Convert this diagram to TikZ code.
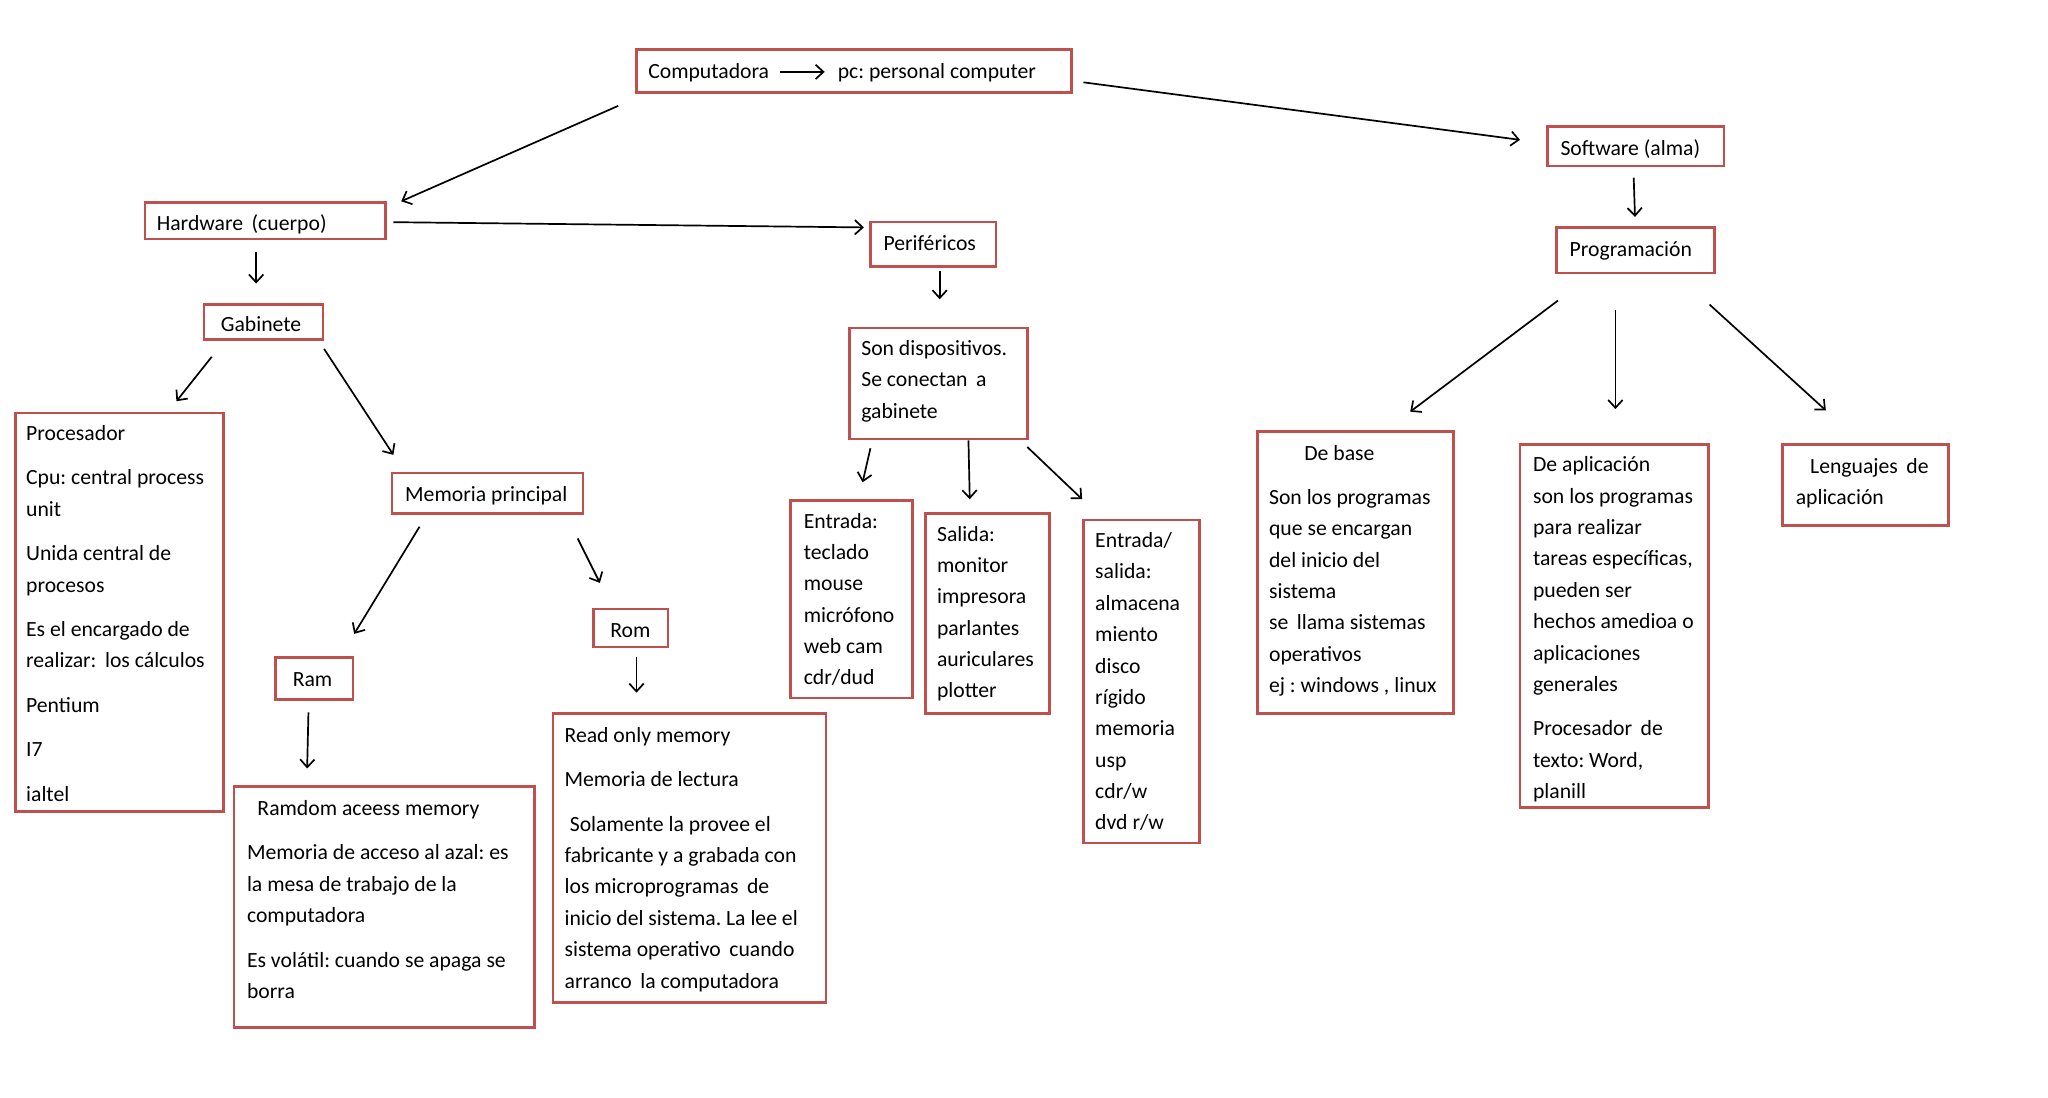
\documentclass[tikz,border=0pt]{standalone}
\usepackage{fontspec}
\setmainfont{Carlito}
\usetikzlibrary{arrows.meta}
\definecolor{boxred}{HTML}{C0504D}
\frenchspacing
\begin{document}
\begin{tikzpicture}[x=1pt,y=-1pt,
  box/.style={draw=boxred, line width=2pt, inner sep=0pt, outer sep=0pt, anchor=north west},
  txt/.style={anchor=north west, inner sep=0pt, outer sep=0pt, yshift=-2pt, align=left, font=\fontsize{16.6pt}{24pt}\selectfont\frenchspacing},
  btxt/.style={anchor=base west, inner sep=0pt, outer sep=0pt, yshift=-2pt, font=\fontsize{16.6pt}{24pt}\selectfont},
  arr/.style={-{Straight Barb[length=6pt,width=11pt]}, line width=1.3pt, black}]
\fill[white] (0,0) rectangle (1567,839.4);
\useasboundingbox (0,0) rectangle (1567,839.4);
% boxes
\node[box, minimum width=333pt, minimum height=33pt] (comp) at (487,38) {};
\node[box, minimum width=184pt, minimum height=28pt] (hw) at (111,155) {};
\node[box, minimum width=96pt, minimum height=34pt] (per) at (666,170) {};
\node[box, minimum width=135pt, minimum height=30pt] (soft) at (1184,97) {};
\node[box, minimum width=121pt, minimum height=35pt] (prog) at (1191,174) {};
\node[box, minimum width=91pt, minimum height=27pt] (gab) at (156,233) {};
\node[box, minimum width=159pt, minimum height=305pt] (proc) at (12,316) {};
\node[box, minimum width=146pt, minimum height=31pt] (mem) at (300,362) {};
\node[box, minimum width=59pt, minimum height=32pt] (ram) at (211,503) {};
\node[box, minimum width=57pt, minimum height=29pt] (rom) at (454,466) {};
\node[box, minimum width=230pt, minimum height=184pt] (ramd) at (179,602) {};
\node[box, minimum width=209pt, minimum height=221pt] (rod) at (423,546) {};
\node[box, minimum width=136pt, minimum height=85pt] (son) at (650,251) {};
\node[box, minimum width=93pt, minimum height=151pt] (ent) at (605,383) {};
\node[box, minimum width=95pt, minimum height=153pt] (sal) at (708,393) {};
\node[box, minimum width=89pt, minimum height=247pt] (es) at (829,398) {};
\node[box, minimum width=150pt, minimum height=216pt] (base) at (962,330) {};
\node[box, minimum width=144pt, minimum height=278pt] (apl) at (1163,340) {};
\node[box, minimum width=127pt, minimum height=62pt] (len) at (1364,340) {};
% texts
\node[btxt] (c1) at (496,58) {Computadora};
\node[btxt] (c2) at (641,58) {pc: personal computer};
\node[txt] (hwt) at (120,160) {\rule{0pt}{14pt}Hardware\ \,(cuerpo)};
\node[txt] (pert) at (676,176) {\rule{0pt}{14pt}Periféricos};
\node[txt] (softt) at (1194,103) {\rule{0pt}{14pt}Software (alma)};
\node[txt] (progt) at (1201,180) {\rule{0pt}{14pt}Programación};
\node[txt] (gabt) at (169,238) {\rule{0pt}{14pt}Gabinete};
\node[txt] (proct) at (20,321) {\rule{0pt}{14pt}Procesador\\[10pt]
  Cpu: central process\\ unit\\[10pt]
  Unida central de\\ procesos\\[10pt]
  Es el encargado de\\ realizar:\ \,los cálculos\\[10pt]
  Pentium\\[10pt] I7\\[10pt] ialtel};
\node[txt] (memt) at (310,368) {\rule{0pt}{14pt}Memoria principal};
\node[txt] (ramt) at (224,509) {\rule{0pt}{14pt}Ram};
\node[txt] (romt) at (467,472) {\rule{0pt}{14pt}Rom};
\node[txt] (ramdt) at (189,608) {\rule{0pt}{14pt}\hspace*{8pt}Ramdom aceess memory\\[10pt]
  Memoria de acceso al azal: es\\ la mesa de trabajo de la\\ computadora\\[10pt]
  Es volátil: cuando se apaga se\\ borra};
\node[txt] (rodt) at (432,552) {\rule{0pt}{14pt}Read only memory\\[10pt]
  Memoria de lectura\\[10pt]
  \hspace*{4pt}Solamente la provee el\\ fabricante y a grabada con\\ los microprogramas\ \,de\\
  inicio del sistema. La lee el\\ sistema operativo\ \,cuando\\ arranco\ \,la computadora};
\node[txt] (sont) at (659,256) {\rule{0pt}{14pt}Son dispositivos.\\ Se conectan\ \,a\\ gabinete};
\node[txt] (entt) at (615,388) {\rule{0pt}{14pt}Entrada:\\ teclado\\ mouse\\ micrófono\\ web cam\\ cdr/dud};
\node[txt] (salt) at (717,398) {\rule{0pt}{14pt}Salida:\\ monitor\\ impresora\\ parlantes\\ auriculares\\ plotter};
\node[txt] (est) at (838,403) {\rule{0pt}{14pt}Entrada/\\ salida:\\ almacena\\ miento\\ disco\\ rígido\\ memoria\\ usp\\ cdr/w\\ dvd r/w};
\node[txt] (baset) at (971,336) {\rule{0pt}{14pt}\hspace*{27pt}De base\\[10pt]
  Son los programas\\ que se encargan\\ del inicio del\\ sistema\\ se\ \,llama sistemas\\ operativos\\ ej : windows , linux};
\node[txt] (aplt) at (1173,345) {\rule{0pt}{14pt}De aplicación\\ son los programas\\ para realizar\\ tareas específicas,\\ pueden ser\\ hechos amedioa o\\ aplicaciones\\ generales\\[10pt]
  Procesador\ \,de\\ texto: Word,\\ planill};
\node[txt] (lent) at (1374,346) {\rule{0pt}{14pt}\hspace*{11pt}Lenguajes\ \,de\\ aplicación};
% connectors
\draw[arr] ([shift={(8,-5)}]c1.base east) -- ([shift={(-10,-5)}]c2.base west);
\draw[arr] ([shift={(-14,10)}]comp.south west) -- ([shift={(12,-1)}]hw.north east);
\draw[arr] ([shift={(9,25)}]comp.north east) -- ([shift={(-21,10)}]soft.north west);
\draw[arr] ([shift={(6,15)}]hw.north east) -- ([shift={(-5,4)}]per.north west);
\draw[arr] ([shift={(85,10)}]hw.south west) -- ([shift={(40,-16)}]gab.north west);
\draw[arr] ([shift={(6,13)}]gab.south west) -- ([shift={(123,-9)}]proc.north west);
\draw[arr] ([shift={(1,7)}]gab.south east) -- ([shift={(1,-14)}]mem.north west);
\draw[arr] ([shift={(21,10)}]mem.south west) -- ([shift={(60,-18)}]ram.north west);
\draw[arr] ([shift={(-4,19)}]mem.south east) -- ([shift={(5,-20)}]rom.north west);
\draw[arr] ([shift={(25,10)}]ram.south west) -- ([shift={(56,-14)}]ramd.north west);
\draw[arr] ([shift={(33,8)}]rom.south west) -- ([shift={(64,-16)}]rod.north west);
\draw[arr] ([shift={(53,3)}]per.south west) -- ([shift={(69,-22)}]son.north west);
\draw[arr] ([shift={(16,7)}]son.south west) -- ([shift={(55,-14)}]ent.north west);
\draw[arr] ([shift={(91,1)}]son.south west) -- ([shift={(34,-11)}]sal.north west);
\draw[arr] ([shift={(0,6)}]son.south east) -- ([shift={(-1,-16)}]es.north west);
\draw[arr] ([shift={(66,9)}]soft.south west) -- ([shift={(60,-8)}]prog.north west);
\draw[arr] ([shift={(1,21)}]prog.south west) -- ([shift={(117,-15)}]base.north west);
\draw[arr] ([shift={(45,28)}]prog.south west) -- ([shift={(73,-27)}]apl.north west);
\draw[arr] ([shift={(-4,24)}]prog.south east) -- ([shift={(33,-26)}]len.north west);
\end{tikzpicture}
\end{document}
